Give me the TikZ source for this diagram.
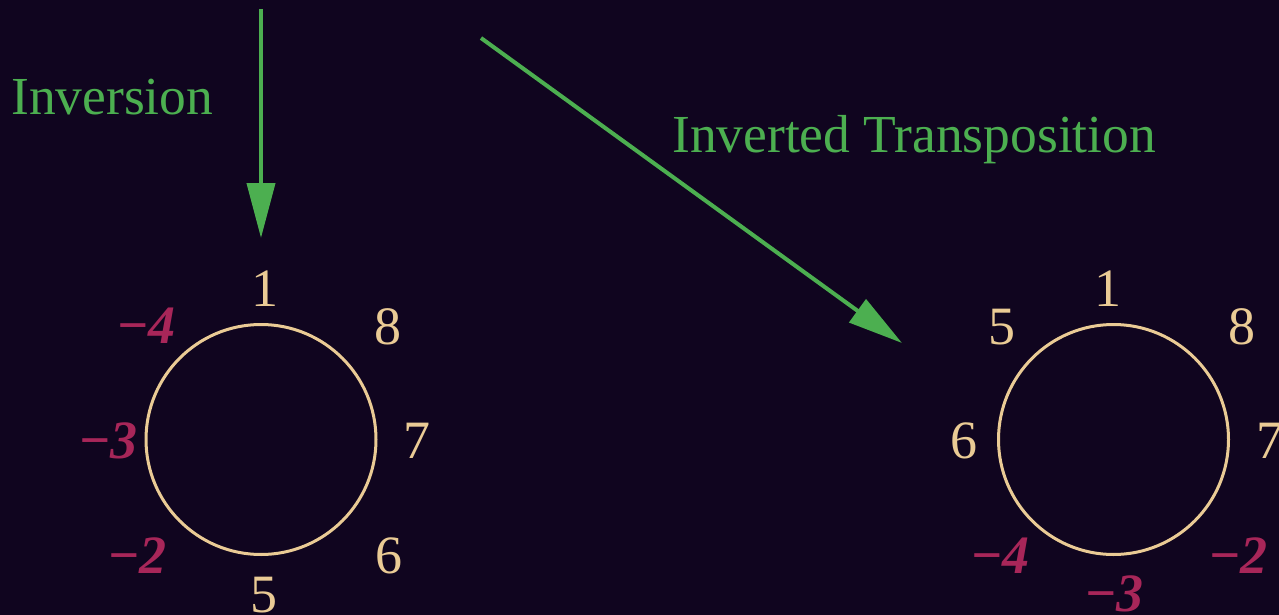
\documentclass[tikz,border=0pt]{standalone}
\usepackage{fontspec}
\setmainfont{Liberation Serif}
\usetikzlibrary{arrows.meta}
\definecolor{bg}{HTML}{10051F}
\definecolor{grn}{HTML}{4CAF50}
\definecolor{cream}{HTML}{EACB95}
\definecolor{neg}{HTML}{A82659}
\begin{document}
\begin{tikzpicture}[x=1pt,y=-1pt,
  lbl/.style={text=cream,inner sep=0pt,font=\fontsize{54}{60}\selectfont},
  nlbl/.style={text=neg,inner sep=0pt,font=\fontsize{54}{60}\selectfont\bfseries\itshape},
  ring/.style={circle,draw=cream,line width=3pt,minimum size=230pt,inner sep=0pt},
  ttl/.style={text=grn,inner sep=0pt,anchor=base west,font=\fontsize{53.5}{60}\selectfont},
  arr/.style={draw=grn,line width=4pt,-{Triangle[length=55pt,width=28pt]}}]
\fill[bg] (0,0) rectangle (1279,615);
\useasboundingbox (0,0) rectangle (1279,615);
% left circle
\node[ring] (c1) at (261,439.5) {};
\node[lbl] (l1) at (265,288.5) {1};
\node[lbl] (l8) at (388,327) {8};
\node[lbl] (l7) at (417,441) {7};
\node[lbl] (l6) at (389,556) {6};
\node[lbl] (l5) at (264,595) {5};
\node[nlbl] (lm4) at (146,326) {−4};
\node[nlbl] (lm3) at (108,441) {−3};
\node[nlbl] (lm2) at (137,556) {−2};
% right circle
\node[ring] (c2) at (1113.5,439.5) {};
\node[lbl] (r1) at (1108,288.5) {1};
\node[lbl] (r5) at (1002,327) {5};
\node[lbl] (r8) at (1242,327) {8};
\node[lbl] (r6) at (964,441) {6};
\node[lbl] (r7) at (1270,441) {7};
\node[nlbl] (rm4) at (1000,556) {−4};
\node[nlbl] (rm2) at (1238,556) {−2};
\node[nlbl] (rm3) at (1114,594) {−3};
% titles
\node[ttl] (t1) at (11,115) {Inversion};
\node[ttl] (t2) at (672,153) {Inverted Transposition};
% arrows
\coordinate (a1s) at (261,9);
\coordinate (a1e) at (261,238);
\coordinate (a2s) at (481,38);
\coordinate (a2e) at (902,343);
\draw[arr] (a1s) -- (a1e);
\draw[arr] (a2s) -- (a2e);
\end{tikzpicture}
\end{document}
